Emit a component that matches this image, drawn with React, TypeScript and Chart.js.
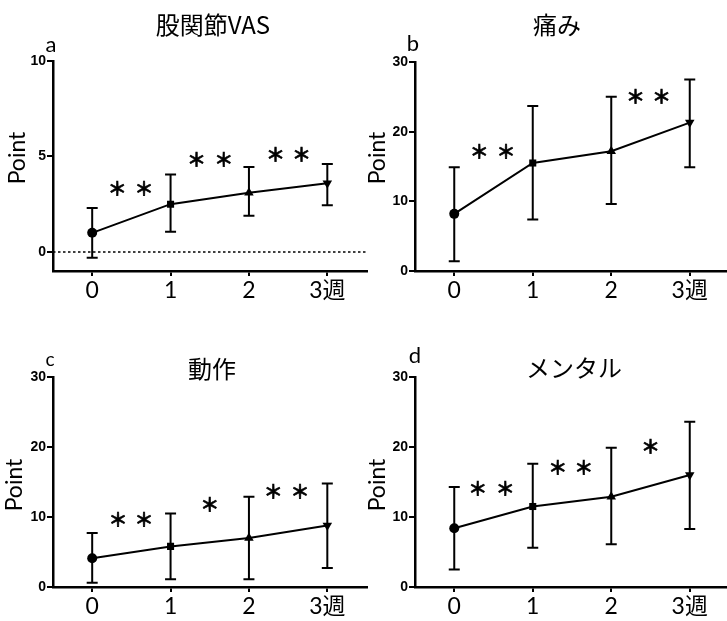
import React, { useEffect, useRef } from 'react';
import { Chart, registerables } from 'chart.js';

Chart.register(...registerables);

// ---- data ----
const weeks = [0, 1, 2, 3];
const xTickLabels = ['0', '1', '2', '3週'];

const vasMean = [1.0, 2.5, 3.1, 3.6];
const vasUpper = [2.3, 4.05, 4.45, 4.6];
const vasLower = [-0.3, 1.05, 1.9, 2.45];
const vasStars = [[0.32, 3.3], [0.66, 3.3], [1.33, 4.85], [1.68, 4.85], [2.34, 5.1], [2.67, 5.1]];
const vasTicks = [0, 5, 10];

const painMean = [8.2, 15.5, 17.2, 21.3];
const painUpper = [14.9, 23.7, 25.0, 27.5];
const painLower = [1.4, 7.4, 9.6, 14.9];
const painStars = [[0.32, 17.1], [0.66, 17.1], [2.31, 25.0], [2.64, 25.0]];

const motionMean = [4.1, 5.8, 7.0, 8.8];
const motionUpper = [7.7, 10.5, 12.9, 14.8];
const motionLower = [0.6, 1.1, 1.1, 2.7];
const motionStars = [[0.33, 9.6], [0.66, 9.6], [1.5, 11.7], [2.31, 13.6], [2.65, 13.6]];

const mentalMean = [8.4, 11.5, 12.9, 16.0];
const mentalUpper = [14.3, 17.6, 19.9, 23.6];
const mentalLower = [2.5, 5.6, 6.1, 8.3];
const mentalStars = [[0.3, 14.1], [0.65, 14.1], [1.32, 17.1], [1.65, 17.1], [2.5, 20.1]];

const scoreTicks = [0, 10, 20, 30];

const markerStyles = ['circle', 'rect', 'triangle', 'triangle'];
const markerRotation = [0, 0, 0, 180];
const markerRadius = [5, 5, 5.5, 5.5];

const LATIN = "Lato, 'Noto Sans CJK JP', sans-serif";
const CJK = "'Noto Sans CJK JP', sans-serif";

type Panel = {
  title: string;
  letter: string;
  left: number;
  top: number;
  width: number;
  height: number;
  padTop: number;
  padRight: number;
  yAxisWidth: number;
  xAxisHeight: number;
  yMin: number;
  yMax: number;
  yTicks: number[];
  mean: number[];
  upper: number[];
  lower: number[];
  stars: number[][];
  zeroLine: boolean;
  titlePos: [number, number];
  letterPos: [number, number];
  letterSize: number;
  yLabelPos: [number, number];
};

const panels: Panel[] = [
  {
    title: '股関節VAS', letter: 'a', left: 0, top: 0, width: 372, height: 310,
    padTop: 61, padRight: 4, yAxisWidth: 53, xAxisHeight: 39,
    yMin: -1, yMax: 10, yTicks: vasTicks,
    mean: vasMean, upper: vasUpper, lower: vasLower, stars: vasStars, zeroLine: true,
    titlePos: [213, 25], letterPos: [51, 46], letterSize: 22, yLabelPos: [18, 158],
  },
  {
    title: '痛み', letter: 'b', left: 363, top: 0, width: 372, height: 310,
    padTop: 62, padRight: 6, yAxisWidth: 52, xAxisHeight: 39,
    yMin: 0, yMax: 30, yTicks: scoreTicks,
    mean: painMean, upper: painUpper, lower: painLower, stars: painStars, zeroLine: false,
    titlePos: [194, 25], letterPos: [50, 45], letterSize: 22, yLabelPos: [15, 158],
  },
  {
    title: '動作', letter: 'c', left: 0, top: 310, width: 372, height: 311,
    padTop: 67, padRight: 4, yAxisWidth: 53, xAxisHeight: 34,
    yMin: 0, yMax: 30, yTicks: scoreTicks,
    mean: motionMean, upper: motionUpper, lower: motionLower, stars: motionStars, zeroLine: false,
    titlePos: [212, 59], letterPos: [50, 50], letterSize: 19, yLabelPos: [15, 175],
  },
  {
    title: 'メンタル', letter: 'd', left: 363, top: 310, width: 372, height: 311,
    padTop: 67, padRight: 6, yAxisWidth: 52, xAxisHeight: 34,
    yMin: 0, yMax: 30, yTicks: scoreTicks,
    mean: mentalMean, upper: mentalUpper, lower: mentalLower, stars: mentalStars, zeroLine: false,
    titlePos: [211, 58], letterPos: [52, 47], letterSize: 22, yLabelPos: [15, 175],
  },
];

function makeChart(canvas: HTMLCanvasElement, p: Panel) {
  const decorPlugin = {
    id: 'decor',
    beforeDatasetsDraw(chart: any) {
      const { ctx, chartArea } = chart;
      const xs = chart.scales.x;
      const ys = chart.scales.y;
      ctx.save();
      if (p.zeroLine) {
        const y0 = ys.getPixelForValue(0);
        ctx.strokeStyle = '#000';
        ctx.lineWidth = 1.5;
        ctx.setLineDash([2.5, 2.5]);
        ctx.beginPath();
        ctx.moveTo(chartArea.left, y0);
        ctx.lineTo(chartArea.right, y0);
        ctx.stroke();
        ctx.setLineDash([]);
      }
      // error bars
      ctx.strokeStyle = '#000';
      ctx.lineWidth = 2;
      weeks.forEach((w, i) => {
        const x = xs.getPixelForValue(w);
        const yt = ys.getPixelForValue(p.upper[i]);
        const yb = ys.getPixelForValue(p.lower[i]);
        ctx.beginPath();
        ctx.moveTo(x, yt);
        ctx.lineTo(x, yb);
        ctx.moveTo(x - 5.5, yt);
        ctx.lineTo(x + 5.5, yt);
        ctx.moveTo(x - 5.5, yb);
        ctx.lineTo(x + 5.5, yb);
        ctx.stroke();
      });
      ctx.restore();
    },
    afterDraw(chart: any) {
      const { ctx } = chart;
      const xs = chart.scales.x;
      const ys = chart.scales.y;
      ctx.save();
      ctx.fillStyle = '#000';
      // title
      ctx.font = `24px ${CJK}`;
      ctx.textAlign = 'center';
      ctx.textBaseline = 'middle';
      ctx.fillText(p.title, p.titlePos[0], p.titlePos[1]);
      // letter
      ctx.font = `${p.letterSize}px ${LATIN}`;
      ctx.textAlign = 'center';
      ctx.textBaseline = 'alphabetic';
      ctx.fillText(p.letter, p.letterPos[0], p.letterPos[1] + 6);
      // y label
      ctx.save();
      ctx.translate(p.yLabelPos[0], p.yLabelPos[1]);
      ctx.rotate(-Math.PI / 2);
      ctx.font = `23px ${LATIN}`;
      ctx.textAlign = 'center';
      ctx.textBaseline = 'middle';
      ctx.fillText('Point', 0, 0);
      ctx.restore();
      // significance stars
      ctx.font = `bold 19px ${CJK}`;
      ctx.textAlign = 'center';
      ctx.textBaseline = 'middle';
      ctx.strokeStyle = '#000';
      ctx.lineWidth = 0.6;
      p.stars.forEach(([sx, sy]) => {
        const px = xs.getPixelForValue(sx);
        const py = ys.getPixelForValue(sy);
        ctx.fillText('＊', px, py);
        ctx.strokeText('＊', px, py);
      });
      ctx.restore();
    },
  };

  return new Chart(canvas, {
    type: 'line',
    data: {
      datasets: [
        {
          data: weeks.map((w, i) => ({ x: w, y: p.mean[i] })),
          borderColor: '#000',
          borderWidth: 2,
          backgroundColor: '#000',
          pointBackgroundColor: '#000',
          pointBorderColor: '#000',
          pointBorderWidth: 0,
          pointStyle: markerStyles as any,
          pointRotation: markerRotation,
          pointRadius: markerRadius,
          tension: 0,
          fill: false,
        },
      ],
    },
    options: {
      responsive: false,
      animation: false,
      devicePixelRatio: 1,
      layout: { padding: { top: p.padTop, right: p.padRight, left: 0, bottom: 0 } },
      plugins: { legend: { display: false }, tooltip: { enabled: false }, title: { display: false } },
      scales: {
        x: {
          type: 'linear',
          min: -0.5,
          max: 3.5,
          afterBuildTicks: (s: any) => { s.ticks = weeks.map((v) => ({ value: v })); },
          afterFit: (s: any) => { s.height = p.xAxisHeight; },
          border: { display: true, color: '#000', width: 2.5 },
          grid: { display: true, drawOnChartArea: false, drawTicks: true, tickLength: 5, color: '#000', lineWidth: 2 },
          ticks: {
            color: '#000',
            font: { family: LATIN, size: 23 },
            padding: 1,
            maxRotation: 0,
            callback: (v: any) => xTickLabels[weeks.indexOf(Number(v))] ?? '',
          },
        },
        y: {
          type: 'linear',
          min: p.yMin,
          max: p.yMax,
          afterBuildTicks: (s: any) => { s.ticks = p.yTicks.map((v) => ({ value: v })); },
          afterFit: (s: any) => { s.width = p.yAxisWidth; },
          border: { display: true, color: '#000', width: 2.5 },
          grid: { display: true, drawOnChartArea: false, drawTicks: true, tickLength: 6, color: '#000', lineWidth: 2 },
          ticks: {
            color: '#000',
            font: { family: "'Liberation Sans', Arial, sans-serif", size: 14, weight: 'bold' },
            padding: 1,
          },
        },
      },
    } as any,
    plugins: [decorPlugin],
  });
}

function PanelChart({ p }: { p: Panel }) {
  const ref = useRef<HTMLCanvasElement | null>(null);
  useEffect(() => {
    if (!ref.current) return;
    const chart = makeChart(ref.current, p);
    return () => chart.destroy();
  }, [p]);
  return (
    <canvas
      ref={ref}
      width={p.width}
      height={p.height}
      style={{ position: 'absolute', left: p.left, top: p.top, width: p.width, height: p.height }}
    />
  );
}

export default function App() {
  return (
    <div
      style={{
        position: 'absolute',
        left: 0,
        top: 0,
        width: 727,
        height: 621,
        overflow: 'hidden',
        background: '#fff',
      }}
    >
      {panels.map((p) => (
        <PanelChart key={p.letter} p={p} />
      ))}
    </div>
  );
}
